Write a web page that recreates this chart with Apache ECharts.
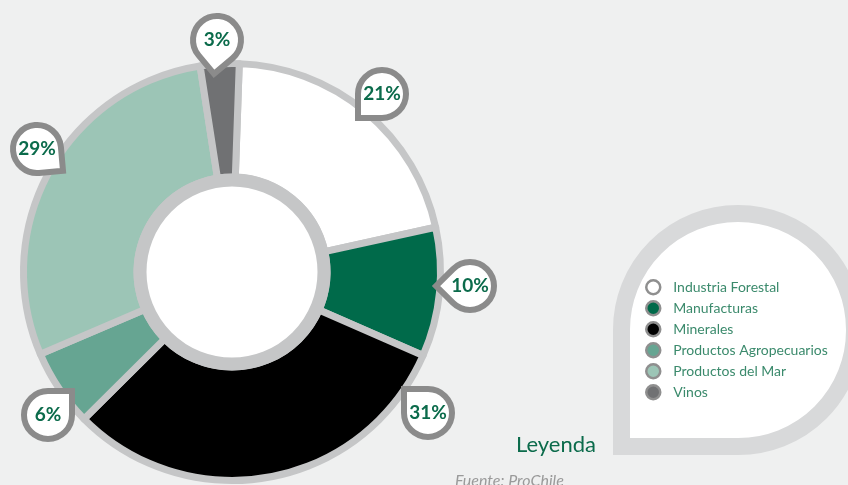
<!DOCTYPE html>
<html lang="es">
<head>
  <meta charset="UTF-8">
  <title>Exportaciones por sector</title>
  <script src="https://cdn.jsdelivr.net/npm/echarts@6/dist/echarts.min.js"></script>
  <style>
    html, body { margin: 0; padding: 0; background: #eff0f0; }
  </style>
</head>
<body>
<div id="main" style="width: 848px;height:485px;"></div>
<script type="text/javascript">
  // datos
  var categories = ['Industria Forestal', 'Manufacturas', 'Minerales', 'Productos Agropecuarios', 'Productos del Mar', 'Vinos'];
  var shares = [21, 10, 31, 6, 29, 3];

  // estilo
  var sliceColors = ['#ffffff', '#006a4a', '#000000', '#66a592', '#9cc5b6', '#707173'];
  var pinTip = [135, 180, 225, 315, 40, 95];          // direccion de la punta (grados)
  var pinAt = [[382, 94], [470, 286], [428, 413], [48, 415], [37, 149], [217, 40]];
  var font = 'Lato, "DejaVu Sans", sans-serif';
  var gridGray = '#c5c6c7';

  // globo tipo "pin" dibujado en un canvas, usado como fondo de la etiqueta
  function makePin(deg) {
    var c = document.createElement('canvas');
    c.width = 80; c.height = 80;
    var g = c.getContext('2d');
    var r = 24, a = deg * Math.PI / 180, d = r * Math.SQRT2;
    g.beginPath();
    g.arc(40, 40, r, a + Math.PI / 4, a - Math.PI / 4 + 2 * Math.PI);
    g.lineTo(40 + d * Math.cos(a), 40 + d * Math.sin(a));
    g.closePath();
    g.fillStyle = '#ffffff';
    g.fill();
    g.lineWidth = 6;
    g.lineJoin = 'miter';
    g.strokeStyle = '#8b8b8b';
    g.stroke();
    return c;
  }

  var pieData = categories.map(function (n, i) {
    return {
      name: n,
      value: shares[i],
      itemStyle: { color: sliceColors[i] },
      label: { backgroundColor: { image: makePin(pinTip[i]) } }
    };
  });

  var myChart = echarts.init(document.getElementById('main'));
  myChart.setOption({
    backgroundColor: '#eff0f0',
    animation: false,
    legend: {
      data: categories,
      orient: 'vertical',
      left: 645,
      top: 279,
      padding: 0,
      itemWidth: 30,
      itemHeight: 14,
      itemGap: 4.5,
      icon: 'circle',
      selectedMode: false,
      itemStyle: { borderColor: '#8f8f8f', borderWidth: 2.5 },
      textStyle: { color: '#3b8a6c', fontSize: 14, fontFamily: font }
    },
    graphic: [
      {
        type: 'rect',
        z: 0,
        shape: { x: 621.5, y: 213.5, width: 233, height: 233, r: [116, 116, 116, 0] },
        style: { fill: '#ffffff', stroke: '#d8d9da', lineWidth: 17 }
      },
      {
        type: 'text',
        left: 516,
        top: 434,
        style: { text: 'Leyenda', fill: '#0b6b4b', font: '22px ' + font }
      },
      {
        type: 'text',
        left: 455,
        top: 473,
        style: { text: 'Fuente: ProChile', fill: '#9a9a9a', font: 'italic 16px ' + font }
      }
    ],
    series: [
      {
        name: 'Sectores',
        type: 'pie',
        center: [232, 272],
        radius: [95, 208.5],
        startAngle: 88,
        clockwise: true,
        avoidLabelOverlap: false,
        silent: true,
        itemStyle: { borderColor: gridGray, borderWidth: 7 },
        label: {
          show: true,
          position: 'outside',
          formatter: function (p) { return p.value + '%'; },
          color: '#0b6b4b',
          fontFamily: font,
          fontWeight: 'bold',
          fontSize: 19,
          width: 80,
          height: 80,
          lineHeight: 80,
          align: 'center',
          verticalAlign: 'middle'
        },
        labelLine: { show: false },
        labelLayout: function (p) {
          var q = pinAt[p.dataIndex];
          return { x: q[0], y: q[1], align: 'center', verticalAlign: 'middle' };
        },
        data: pieData
      },
      {
        // hueco central blanco con anillo gris
        name: 'hueco',
        type: 'pie',
        center: [232, 272],
        radius: [0, 92],
        silent: true,
        label: { show: false },
        labelLine: { show: false },
        itemStyle: { color: '#ffffff', borderColor: gridGray, borderWidth: 13 },
        data: [{ name: '', value: 1 }]
      }
    ]
  });
</script>
</body>
</html>
